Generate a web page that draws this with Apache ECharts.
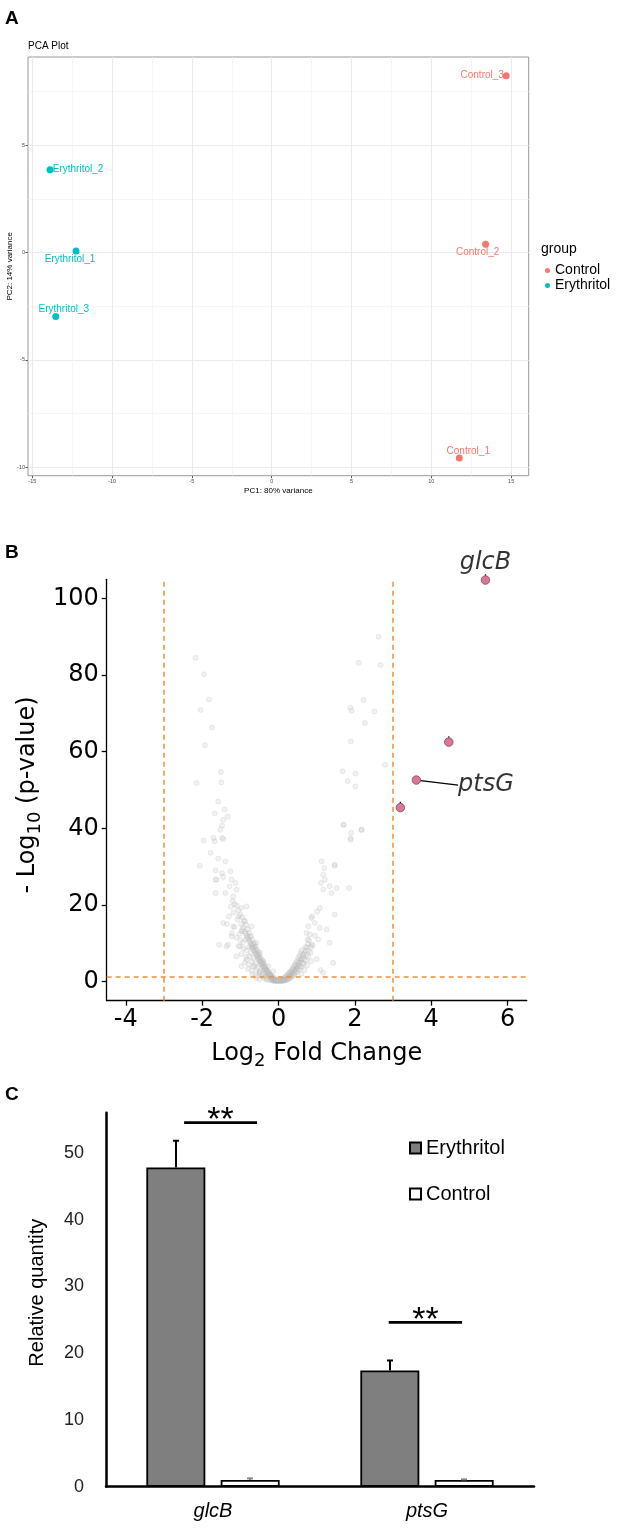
<!DOCTYPE html>
<html>
<head>
<meta charset="utf-8">
<script src="https://cdn.jsdelivr.net/npm/echarts@6/dist/echarts.min.js"></script>
<style>
  html, body { margin: 0; padding: 0; background: #fff; }
  #main { width: 624px; height: 1530px; }
</style>
</head>
<body>
<div id="main"></div>
<script>
// ---- panel A: PCA ----
const pcaSamples = ['Control_1', 'Control_2', 'Control_3', 'Erythritol_1', 'Erythritol_2', 'Erythritol_3'];
const pcaGroup = ['Control', 'Control', 'Control', 'Erythritol', 'Erythritol', 'Erythritol'];
const pcaPC1 = [11.75, 13.40, 14.69, -12.26, -13.89, -13.53];
const pcaPC2 = [-9.57, 0.39, 8.24, 0.07, 3.86, -2.98];
const pcaTicksX = [-15, -10, -5, 0, 5, 10, 15];
const pcaTicksY = [-10, -5, 0, 5];
const pcaMinorX = [-12.5, -7.5, -2.5, 2.5, 7.5, 12.5];
const pcaMinorY = [-7.5, -2.5, 2.5, 7.5];

// ---- panel B: volcano ----
// grey genes, [log2FC, -log10 p]
const bgGenes = [
  [-2.17, 84.5], [-1.95, 80.2], [-1.82, 73.6], [-2.04, 70.9], [-1.74, 66.3], [-1.93, 61.7],
  [-1.51, 54.7], [-2.15, 51.8], [-1.50, 52.0], [-1.58, 47.0], [-1.67, 43.9], [-1.41, 44.9],
  [-1.33, 43.0], [-1.45, 42.2], [-1.48, 40.7], [-1.52, 39.6], [-1.70, 37.5], [-1.48, 37.5],
  [2.62, 90.0], [2.10, 83.2], [2.67, 82.6], [2.23, 73.5], [1.88, 71.5], [1.91, 70.7],
  [2.51, 70.5], [2.26, 67.5], [1.89, 62.7], [2.79, 56.6], [1.68, 54.9], [2.02, 54.3],
  [1.81, 52.3], [2.01, 50.9], [1.70, 40.9], [1.90, 38.8], [2.17, 39.6], [1.89, 37.4],
  [-1.96, 36.8], [-1.67, 36.6], [-1.45, 37.2], [-2.06, 30.2], [-1.78, 33.6], [-1.58, 32.1],
  [-1.39, 31.4], [-1.65, 29.0], [-1.48, 28.3], [-1.26, 28.8], [-1.65, 26.6], [-1.45, 27.3],
  [-1.23, 26.6], [-1.13, 25.7], [-1.28, 24.9], [-1.65, 23.1], [-1.39, 23.1], [-1.10, 24.0],
  [-1.62, 26.6], [-1.56, 9.6], [-1.36, 9.2],
  [1.71, 40.9], [1.89, 37.0], [2.18, 39.6], [1.85, 24.4], [1.13, 31.4], [1.20, 29.6],
  [1.47, 30.2], [1.17, 27.9], [1.21, 26.6], [1.11, 25.7], [1.34, 24.9], [1.52, 24.4],
  [1.17, 24.0], [1.39, 23.1], [1.47, 17.5], [1.08, 19.2], [1.01, 18.3], [0.88, 17.0],
  [0.95, 15.3], [1.08, 14.0], [1.26, 13.6], [0.78, 14.4], [0.73, 12.7], [1.04, 11.0],
  [1.34, 10.1], [0.86, 9.6], [1.43, 4.9], [1.17, 2.3], [0.86, 16.6], [1.47, 30.5],
  [-1.19, 22.2], [-0.97, 19.2], [-0.84, 19.6], [-1.04, 17.0], [-0.88, 15.7], [-1.45, 15.3],
  [-1.19, 14.4], [-0.71, 14.4], [-0.97, 13.1], [-0.75, 11.8], [-1.23, 11.8], [-0.58, 10.1],
  [-1.32, 9.6], [-1.01, 9.2], [-0.71, 8.8], [-0.49, 7.5], [-1.10, 6.6], [-0.84, 5.7],
  [-0.40, 5.3], [-0.27, 4.0], [-0.67, 4.0], [-0.97, 4.0], [-0.14, 2.7], [-0.49, 2.3],
  [-1.20, 21.0], [-1.15, 20.2], [-1.25, 19.5], [-1.10, 19.8], [-1.05, 18.6], [-1.18, 18.0],
  [-1.00, 17.5], [-0.95, 16.8], [-1.08, 16.2], [-0.90, 15.9], [-0.98, 15.0], [-0.85, 14.8],
  [-0.92, 14.1], [-0.80, 13.6], [-0.88, 13.0], [-0.76, 12.7], [-0.83, 12.1], [-0.72, 11.8],
  [-0.79, 11.2], [-0.68, 10.9], [-0.74, 10.3], [-0.64, 10.0], [-0.70, 9.5], [-0.60, 9.2],
  [-0.66, 8.7], [-0.57, 8.4], [-0.62, 7.9], [-0.53, 7.6], [-0.58, 7.2], [-0.50, 6.9],
  [-0.55, 6.5], [-0.47, 6.2], [-0.51, 5.8], [-0.43, 5.6], [-0.48, 5.2], [-0.40, 4.9],
  [-0.44, 4.6], [-0.37, 4.3], [-0.41, 4.0], [-0.34, 3.8], [-0.38, 3.4], [-0.31, 3.2],
  [-0.34, 2.9], [-0.28, 2.7], [-0.31, 2.4], [-0.25, 2.2], [-0.27, 1.9], [-0.22, 1.7],
  [-0.24, 1.5], [-0.19, 1.3], [-0.20, 1.1], [-0.16, 0.9], [-0.17, 0.7], [-0.13, 0.6],
  [-0.11, 0.4], [-0.08, 0.3], [-0.05, 0.2], [-0.02, 0.1],
  [-0.95, 13.5], [-1.02, 12.4], [-0.86, 11.0], [-0.93, 10.2], [-0.78, 9.0], [-0.84, 8.1],
  [-0.72, 7.4], [-0.77, 6.6], [-0.66, 6.0], [-0.70, 5.3], [-0.60, 4.7], [-0.63, 4.1],
  [-0.55, 3.6], [-0.57, 3.0], [-0.49, 2.6], [-0.50, 2.1], [-0.43, 1.8], [-0.44, 1.4],
  [-0.37, 1.2], [-0.38, 0.9], [-0.30, 0.7], [-0.31, 0.5], [-0.24, 0.4], [-0.18, 0.25],
  [-0.12, 0.15],
  [-1.30, 17.0], [-1.35, 15.0], [-1.15, 14.2], [-1.22, 12.6], [-1.10, 11.5], [-1.00, 10.8],
  [-1.05, 9.3], [-0.92, 8.6], [-0.97, 7.2], [-0.85, 6.4], [-0.88, 5.0], [-0.78, 4.4],
  [-0.80, 3.3], [-0.70, 2.8], [-0.68, 1.9], [-0.60, 1.5], [-0.58, 0.9], [-0.50, 0.6],
  [-0.86, 12.5], [-0.82, 11.6], [-0.77, 10.6], [-0.73, 9.9], [-0.69, 9.0], [-0.65, 8.2],
  [-0.61, 7.3], [-0.57, 6.6], [-0.53, 5.9], [-0.49, 5.1], [-0.45, 4.4], [-0.41, 3.6],
  [-0.37, 3.0], [-0.33, 2.4], [-0.29, 1.9], [-0.25, 1.4], [-0.21, 1.0], [-0.17, 0.5],
  [-0.14, 0.3], [-0.09, 0.1],
  [-0.66, 9.6], [-0.62, 8.9], [-0.58, 8.0], [-0.54, 7.0], [-0.50, 6.1], [-0.46, 5.4],
  [-0.42, 4.7], [-0.38, 3.9], [-0.34, 3.3], [-0.30, 2.8], [-0.26, 2.3], [-0.22, 1.9],
  [-0.18, 1.5], [-0.15, 1.2], [-0.12, 0.9], [-0.09, 0.6], [-0.06, 0.4], [-0.03, 0.25],
  [0.02, 0.1], [0.05, 0.15], [0.08, 0.2], [0.11, 0.3], [0.14, 0.45], [0.17, 0.6],
  [0.20, 0.8], [0.23, 1.0], [0.26, 1.25], [0.29, 1.5], [0.32, 1.8], [0.35, 2.1],
  [0.38, 2.4], [0.41, 2.8], [0.44, 3.2], [0.47, 3.6], [0.50, 4.0], [0.53, 4.5],
  [0.56, 5.0], [0.59, 5.5], [0.62, 6.1], [0.65, 6.7], [0.68, 7.4], [0.71, 8.1],
  [0.74, 8.9], [0.77, 9.8], [0.80, 10.8],
  [0.18, 0.3], [0.24, 0.55], [0.30, 0.9], [0.36, 1.3], [0.42, 1.8], [0.48, 2.4],
  [0.54, 3.1], [0.60, 3.8], [0.66, 4.6], [0.72, 5.5], [0.78, 6.5], [0.84, 7.6],
  [0.28, 2.0], [0.34, 2.6], [0.40, 3.3], [0.46, 4.1], [0.52, 5.0], [0.58, 6.0],
  [0.64, 7.1], [0.70, 9.0], [0.76, 11.0], [0.82, 12.3], [0.60, 2.0], [0.68, 3.0],
  [0.75, 4.2], [0.85, 5.3], [0.90, 9.5], [0.95, 12.0], [1.00, 5.8], [1.10, 3.0],
  [0.00, 0.3], [0.04, 0.4], [0.07, 0.5], [0.10, 0.6], [0.13, 0.8], [0.16, 1.0],
  [0.19, 1.3], [0.22, 1.6], [0.25, 1.9], [0.28, 2.3], [0.31, 2.6], [0.34, 3.0],
  [0.37, 3.5], [0.40, 4.0], [0.43, 4.4], [0.46, 5.0], [0.49, 5.5], [0.52, 6.2],
  [0.55, 6.8], [0.58, 7.5], [0.61, 8.2],
  [0.10, 0.1], [0.13, 0.2], [0.16, 0.35], [0.21, 0.5], [0.26, 0.8], [0.31, 1.1],
  [0.36, 1.6], [0.41, 2.1], [0.46, 2.7], [0.51, 3.3], [0.56, 4.0], [0.62, 4.8],
  [0.67, 5.8], [0.73, 6.9], [0.79, 8.0], [0.86, 9.0]
];
const sigFC = [5.42, 4.46, 3.61, 3.19];
const sigP = [104.8, 62.5, 52.6, 45.4];
const sigNames = ['glcB', '', 'ptsG', ''];
const fcCut = 3;
const pCut = 1.3;
const volTicksX = [-4, -2, 0, 2, 4, 6];
const volTicksY = [0, 20, 40, 60, 80, 100];

// ---- panel C: qPCR ----
const genes = ['glcB', 'ptsG'];
const erythritolMean = [47.8, 17.4];
const erythritolSD = [4.0, 1.5];
const controlMean = [1.0, 1.0];
const controlSD = [0.25, 0.1];
const qTicksY = [0, 10, 20, 30, 40, 50];
// significance bars: [from, to, height] on a 0..2 helper axis
const sigBars = [[0.365, 0.706, 54.5], [1.321, 1.664, 24.6]];

const SANS = 'Liberation Sans, Arial, sans-serif';
const MPL = 'DejaVu Sans, sans-serif';
const groupColor = { Control: '#F8766D', Erythritol: '#00BFC4' };
const pcaLabelOffset = {
  Control_1: [9, -7], Control_2: [-8, 8], Control_3: [-24, 0],
  Erythritol_1: [-6, 8], Erythritol_2: [28, 0], Erythritol_3: [8, -7]
};

const BAR_W = 59;
const BAR_SHIFT = (BAR_W + 15) / 2;

const subRich = {
  t: { fontFamily: MPL, fontSize: 24, color: '#000', lineHeight: 28 },
  s: { fontFamily: MPL, fontSize: 18, color: '#000', lineHeight: 18, padding: [15, 0, 0, 0] }
};

function pcaSeries(group) {
  const data = [];
  pcaSamples.forEach((s, i) => {
    if (pcaGroup[i] !== group) return;
    data.push({
      value: [pcaPC1[i], pcaPC2[i]],
      name: s,
      label: { offset: pcaLabelOffset[s] }
    });
  });
  return {
    name: 'PCA ' + group,
    type: 'scatter',
    xAxisIndex: 0, yAxisIndex: 0,
    symbolSize: 7,
    itemStyle: { color: groupColor[group], opacity: 1 },
    label: {
      show: true, position: 'inside', formatter: '{b}',
      color: groupColor[group], fontFamily: SANS, fontSize: 10
    },
    data: data
  };
}

function errorBars(sign, means, sds) {
  return {
    type: 'custom',
    xAxisIndex: 3, yAxisIndex: 3,
    z: 5,
    renderItem: function (params, api) {
      const i = api.value(0);
      const base = api.coord([i, api.value(1)]);
      const top = api.coord([i, api.value(1) + api.value(2)]);
      const x = base[0] + sign * BAR_SHIFT;
      const col = api.value(2) < 0.5 ? '#888' : '#000';
      return {
        type: 'group',
        children: [
          { type: 'line', shape: { x1: x, y1: base[1], x2: x, y2: top[1] }, style: { stroke: col, lineWidth: 2 } },
          { type: 'line', shape: { x1: x - 3, y1: top[1], x2: x + 3, y2: top[1] }, style: { stroke: col, lineWidth: 2 } }
        ]
      };
    },
    data: genes.map((g, i) => [i, means[i], sds[i]])
  };
}

const chart = echarts.init(document.getElementById('main'), null, { renderer: 'canvas' });

const option = {
  animation: false,
  backgroundColor: '#fff',
  title: [
    { text: 'PCA Plot', left: 28, top: 41, padding: 0,
      textStyle: { fontFamily: SANS, fontSize: 10, fontWeight: 'normal', color: '#000' } },
    { text: 'group', left: 541, top: 242, padding: 0,
      textStyle: { fontFamily: SANS, fontSize: 14, fontWeight: 'normal', color: '#000' } }
  ],
  legend: [
    {
      data: ['PCA Control', 'PCA Erythritol'],
      formatter: n => n.replace('PCA ', ''),
      orient: 'vertical', left: 545, top: 263, padding: 0,
      icon: 'circle', itemWidth: 5, itemHeight: 5, itemGap: 0,
      textStyle: { fontFamily: SANS, fontSize: 14, color: '#000', lineHeight: 15 },
      selectedMode: false
    },
    {
      data: ['Erythritol', 'Control'],
      orient: 'vertical', left: 409, top: 1138, padding: 0,
      icon: 'rect', itemWidth: 11, itemHeight: 11, itemGap: 26,
      textStyle: { fontFamily: SANS, fontSize: 20, color: '#000', lineHeight: 20 },
      selectedMode: false
    }
  ],
  graphic: [
    { type: 'text', left: 5, top: 9, style: { text: 'A', fontFamily: SANS, fontWeight: 'bold', fontSize: 19, fill: '#000' } },
    { type: 'text', left: 5, top: 543, style: { text: 'B', fontFamily: SANS, fontWeight: 'bold', fontSize: 19, fill: '#000' } },
    { type: 'text', left: 5, top: 1085, style: { text: 'C', fontFamily: SANS, fontWeight: 'bold', fontSize: 19, fill: '#000' } }
  ],
  grid: [
    { left: 28, top: 57, width: 500.7, height: 418.7, show: true, borderColor: '#999', borderWidth: 1,
      backgroundColor: '#fff', containLabel: false, outerBoundsMode: 'none' },
    { left: 106.7, top: 579.3, width: 420, height: 421.4, containLabel: false, outerBoundsMode: 'none' },
    { left: 106, top: 1112.7, width: 428, height: 374, containLabel: false, outerBoundsMode: 'none' }
  ],
  xAxis: [
    {
      gridIndex: 0, type: 'value', min: -15.27, max: 16.1,
      axisLine: { show: false, onZero: false },
      axisTick: { show: true, customValues: pcaTicksX, length: 2.5, lineStyle: { color: '#333', width: 0.8 } },
      axisLabel: { customValues: pcaTicksX, fontFamily: SANS, fontSize: 5.5, color: '#4D4D4D', margin: 3 },
      splitLine: { show: true, lineStyle: { color: '#EBEBEB', width: 1 } },
      name: 'PC1: 80% variance', nameLocation: 'middle', nameGap: 11, nameMoveOverlap: false,
      nameTextStyle: { fontFamily: SANS, fontSize: 8, color: '#000' }
    },
    {
      gridIndex: 0, type: 'value', min: -15.27, max: 16.1,
      axisLine: { show: false }, axisLabel: { show: false },
      axisTick: { show: false, customValues: pcaMinorX },
      splitLine: { show: true, lineStyle: { color: '#F2F2F2', width: 0.8 } }
    },
    {
      gridIndex: 1, type: 'value', min: -4.5, max: 6.5,
      axisLine: { show: true, onZero: false, lineStyle: { color: '#000', width: 1.3 } },
      axisTick: { show: true, customValues: volTicksX, length: 5, lineStyle: { color: '#000', width: 1.3 } },
      axisLabel: { customValues: volTicksX, fontFamily: MPL, fontSize: 24, color: '#000', margin: 7 },
      splitLine: { show: false },
      name: '{t|Log}{s|2}{t| Fold Change}', nameLocation: 'middle', nameGap: 39, nameMoveOverlap: false,
      nameTextStyle: { rich: subRich }
    },
    {
      gridIndex: 2, type: 'category', data: genes,
      axisLine: { show: true, lineStyle: { color: '#000', width: 2.5 } },
      axisTick: { show: false },
      axisLabel: { fontFamily: SANS, fontSize: 20, fontStyle: 'italic', color: '#000', margin: 15 },
      splitLine: { show: false }
    },
    {
      gridIndex: 2, type: 'value', min: 0, max: 2, show: false
    }
  ],
  yAxis: [
    {
      gridIndex: 0, type: 'value', min: -10.4, max: 9.11,
      axisLine: { show: false, onZero: false },
      axisTick: { show: true, customValues: pcaTicksY, length: 2.5, lineStyle: { color: '#333', width: 0.8 } },
      axisLabel: { customValues: pcaTicksY, fontFamily: SANS, fontSize: 5.5, color: '#4D4D4D', margin: 3 },
      splitLine: { show: true, lineStyle: { color: '#EBEBEB', width: 1 } },
      name: 'PC2: 14% variance', nameLocation: 'middle', nameGap: 14, nameRotate: 90, nameMoveOverlap: false,
      nameTextStyle: { fontFamily: SANS, fontSize: 8, color: '#000' }
    },
    {
      gridIndex: 0, type: 'value', min: -10.4, max: 9.11,
      axisLine: { show: false }, axisLabel: { show: false },
      axisTick: { show: false, customValues: pcaMinorY },
      splitLine: { show: true, lineStyle: { color: '#F2F2F2', width: 0.8 } }
    },
    {
      gridIndex: 1, type: 'value', min: -5, max: 105,
      axisLine: { show: true, onZero: false, lineStyle: { color: '#000', width: 1.3 } },
      axisTick: { show: true, customValues: volTicksY, length: 5, lineStyle: { color: '#000', width: 1.3 } },
      axisLabel: { customValues: volTicksY, fontFamily: MPL, fontSize: 24, color: '#000', margin: 8 },
      splitLine: { show: false },
      name: '{t|- Log}{s|10}{t| (p-value)}', nameLocation: 'middle', nameGap: 65, nameRotate: 90,
      nameMoveOverlap: false,
      nameTextStyle: { rich: subRich, padding: [0, 10, 0, 0] }
    },
    {
      gridIndex: 2, type: 'value', min: 0, max: 56,
      axisLine: { show: true, lineStyle: { color: '#000', width: 2.5 } },
      axisTick: { show: false, customValues: qTicksY },
      axisLabel: { customValues: qTicksY, fontFamily: SANS, fontSize: 18, color: '#222', margin: 22 },
      splitLine: { show: false },
      name: 'Relative quantity', nameLocation: 'middle', nameGap: 59, nameRotate: 90, nameMoveOverlap: false,
      nameTextStyle: { fontFamily: SANS, fontSize: 20, color: '#000', padding: [0, 0, 0, 14] }
    }
  ],
  series: [
    pcaSeries('Control'),
    pcaSeries('Erythritol'),
    {
      name: 'background genes',
      type: 'scatter',
      xAxisIndex: 2, yAxisIndex: 2,
      symbolSize: 5,
      itemStyle: { color: 'rgba(200,200,200,0.3)', borderColor: 'rgba(160,160,160,0.3)', borderWidth: 0.8 },
      data: bgGenes,
      markLine: {
        silent: true, symbol: ['none', 'none'], label: { show: false },
        lineStyle: { color: '#EE8F3A', type: [5, 4], width: 1.5 },
        emphasis: { disabled: true },
        data: [{ xAxis: -fcCut }, { xAxis: fcCut }, { yAxis: pCut }]
      }
    },
    {
      name: 'significant genes',
      type: 'scatter',
      xAxisIndex: 2, yAxisIndex: 2,
      symbolSize: 8.5,
      z: 4,
      itemStyle: { color: '#C9587C', borderColor: '#9C3A62', borderWidth: 1 },
      label: {
        show: true, formatter: '{b}', fontFamily: MPL, fontSize: 24,
        fontStyle: 'italic', color: '#000', textBorderWidth: 0
      },
      labelLine: { show: true, lineStyle: { color: '#000', width: 1.2 } },
      labelLayout: function (p) {
        return sigNames[p.dataIndex] === 'ptsG' ? { dx: 37, dy: 5 } : {};
      },
      data: sigFC.map((fc, i) => ({
        value: [fc, sigP[i]],
        name: sigNames[i],
        label: { position: sigNames[i] === 'ptsG' ? 'right' : 'top', distance: sigNames[i] === 'ptsG' ? 0 : 1 }
      }))
    },
    {
      name: 'Erythritol',
      type: 'bar',
      xAxisIndex: 3, yAxisIndex: 3,
      barWidth: BAR_W, barGap: '26%',
      itemStyle: { color: '#7F7F7F', borderColor: '#000', borderWidth: 1.8 },
      data: erythritolMean
    },
    {
      name: 'Control',
      type: 'bar',
      xAxisIndex: 3, yAxisIndex: 3,
      barWidth: BAR_W, barGap: '26%',
      itemStyle: { color: '#fff', borderColor: '#000', borderWidth: 1.8 },
      data: controlMean
    },
    errorBars(-1, erythritolMean, erythritolSD),
    errorBars(1, controlMean, controlSD),
    {
      type: 'custom',
      xAxisIndex: 4, yAxisIndex: 3,
      z: 6,
      renderItem: function (params, api) {
        const a = api.coord([api.value(0), api.value(2)]);
        const b = api.coord([api.value(1), api.value(2)]);
        return {
          type: 'group',
          children: [
            { type: 'line', shape: { x1: a[0], y1: a[1], x2: b[0], y2: b[1] }, style: { stroke: '#000', lineWidth: 2.7 } },
            { type: 'text', x: (a[0] + b[0]) / 2, y: a[1] - 2,
              style: { text: '**', fontFamily: SANS, fontSize: 34, fill: '#000', align: 'center', verticalAlign: 'middle' } }
          ]
        };
      },
      data: sigBars
    }
  ]
};

chart.setOption(option);
</script>
</body>
</html>
